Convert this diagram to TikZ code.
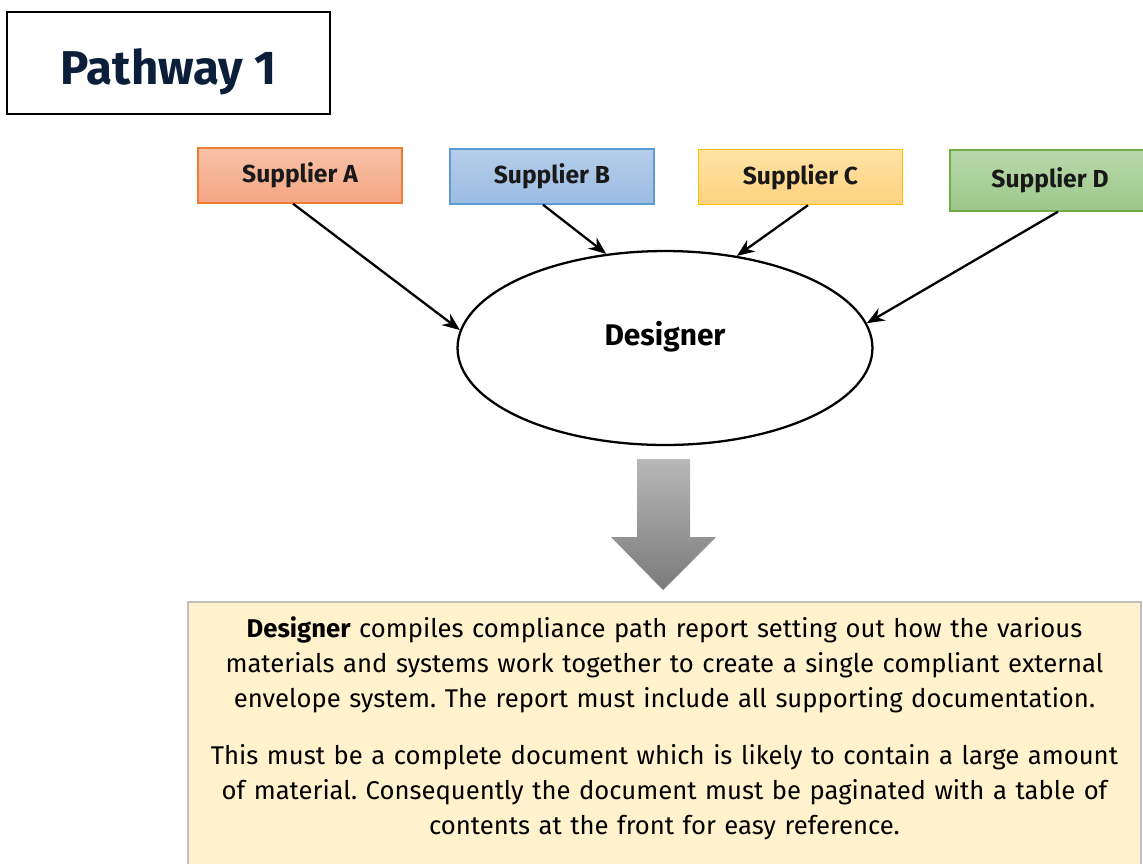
\documentclass[tikz,border=0pt]{standalone}
\usepackage{fontspec}
\setmainfont{Fira Sans}
\usetikzlibrary{arrows.meta, calc, shapes.geometric}
\frenchspacing

\definecolor{titlenavy}{HTML}{0B1F3A}
\definecolor{orangeline}{HTML}{ED7D31}
\definecolor{orangetop}{HTML}{F8C2A8}
\definecolor{orangebot}{HTML}{F4A584}
\definecolor{blueline}{HTML}{5B9BD5}
\definecolor{bluetop}{HTML}{B5CEEA}
\definecolor{bluebot}{HTML}{9BBBE2}
\definecolor{goldline}{HTML}{FFC000}
\definecolor{goldtop}{HTML}{FFE3A6}
\definecolor{goldbot}{HTML}{FFD27E}
\definecolor{greenline}{HTML}{70AD47}
\definecolor{greentop}{HTML}{B9D9AB}
\definecolor{greenbot}{HTML}{9CC78A}
\definecolor{noteyellow}{HTML}{FFF2CC}
\definecolor{notegrey}{HTML}{BFBFBF}

\begin{document}
\begin{tikzpicture}[x=0.02cm, y=0.02cm,
    supplier/.style={draw, line width=0.8pt, minimum width=4.08cm, minimum height=1.1cm,
      font=\fontsize{14}{16}\selectfont\bfseries, text=black!90},
    feed/.style={-{Stealth[length=10pt, width=8pt]}, line width=1.3pt}]
  \useasboundingbox (0,0) rectangle (1143,-863);

  % title
  \node[draw, line width=1.4pt, minimum width=6.46cm, minimum height=2.04cm, text height=0.9cm, text depth=0.04cm,
    font=\fontsize{27}{30}\selectfont\bfseries, text=titlenavy] (title) at (168.5,-63) {Pathway 1};

  % suppliers
  \node[supplier, draw=orangeline, top color=orangetop, bottom color=orangebot] (supA) at (300,-175.5) {Supplier A};
  \node[supplier, draw=blueline, top color=bluetop, bottom color=bluebot] (supB) at (552,-176.5) {Supplier B};
  \node[supplier, draw=goldline, top color=goldtop, bottom color=goldbot] (supC) at (800.5,-177) {Supplier C};
  \node[supplier, draw=greenline, top color=greentop, bottom color=greenbot,
    minimum width=4.0cm, minimum height=1.22cm] (supD) at (1050,-180.5) {Supplier D};

  % designer
  \node[ellipse, draw, line width=1.3pt, inner sep=0pt, minimum width=8.3cm, minimum height=3.88cm,
    text depth=0.6cm, font=\fontsize{17}{20}\selectfont\bfseries] (designer) at (665,-348) {Designer};

  \draw[feed] ([xshift=-0.14cm]supA.south) -- (designer.175);
  \draw[feed] ([xshift=-0.18cm]supB.south) -- (designer.122);
  \draw[feed] ([xshift=0.15cm]supC.south) -- (designer.52);
  \draw[feed] ([xshift=0.16cm]supD.south) -- (designer.7);

  % big arrow down
  \path[top color=black!28, bottom color=black!52]
    (637,-459) -- (690,-459) -- (690,-537) -- (716,-537) -- (663,-590) -- (611,-537) -- (637,-537) -- cycle;

  % report note
  \node[draw=notegrey, fill=noteyellow, line width=1.1pt, anchor=north, text width=18.2cm,
    inner xsep=0.43cm, inner ysep=0.3cm, align=center, font=\fontsize{14.6}{19.8}\selectfont] (note) at (664.5,-601)
    {\textbf{Designer} compiles compliance path report setting out how the various\\
     materials and systems work together to create a single compliant external\\
     envelope system. The report must include all supporting documentation.\\[13pt]
     This must be a complete document which is likely to contain a large amount\\
     of material. Consequently the document must be paginated with a table of\\
     contents at the front for easy reference.\\ \rule{0pt}{1cm}};
\end{tikzpicture}
\end{document}
